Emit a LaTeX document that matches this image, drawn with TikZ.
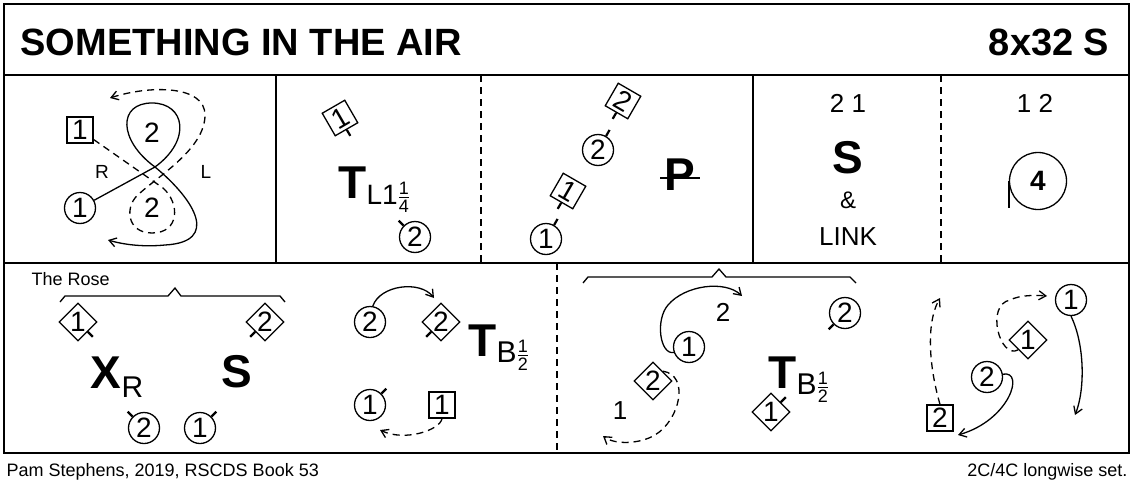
\documentclass[tikz,border=0pt]{standalone}
\usepackage{fontspec}
\usepackage{amsmath}
\setmainfont{Liberation Sans}
\usetikzlibrary{shapes.geometric,arrows.meta}
\newcommand{\fsz}[1]{\fontsize{#1}{#1}\selectfont}
\newcommand{\myfr}[2]{\ensuremath{\genfrac{}{}{0.8pt}{}{\mbox{\fsz{18}#1}}{\mbox{\fsz{18}#2}}}}
\begin{document}
\begin{tikzpicture}[x=1pt,y=1pt,line width=1.3pt,
 w/.style={circle,draw,minimum size=31pt,inner sep=0pt,font=\fsz{28}},
 m/.style={rectangle,draw,minimum size=26pt,inner sep=0pt,font=\fsz{28}},
 d/.style={diamond,draw,minimum size=38pt,inner sep=0pt,font=\fsz{28}},
 tk/.style={line width=2.2pt},
 ar/.style={-{Straight Barb[length=7pt,width=9pt]}},
 dsh/.style={dash pattern=on 7pt off 5pt},
 big/.style={font=\fsz{46}\bfseries,inner sep=0pt},
 lab/.style={font=\fsz{26},inner sep=0pt}]
\useasboundingbox (0,0) rectangle (1133,-490);
% frame
\draw[line width=2pt] (4,-4) rectangle (1129,-453);
\draw[line width=2pt] (4,-75) -- (1129,-75);
\draw[line width=2pt] (4,-263) -- (1129,-263);
\draw (276,-75) -- (276,-263);
\draw (753,-75) -- (753,-263);
\draw[dsh,line width=1.5pt] (481,-75) -- (481,-263);
\draw[dsh,line width=1.5pt] (941,-75) -- (941,-263);
\draw[dsh,line width=1.5pt] (557,-263) -- (557,-453);
% title
\node[anchor=west,font=\fsz{38}\bfseries,inner sep=0pt] (title) at (20,-42) {SOMETHING IN THE AIR};
\node[anchor=east,font=\fsz{38}\bfseries,inner sep=0pt] (bars) at (1110,-42) {8x32 S};
\node[anchor=west,font=\fsz{18},inner sep=0pt] (foot1) at (6,-472) {Pam Stephens, 2019, RSCDS Book 53};
\node[anchor=east,font=\fsz{18},inner sep=0pt] (foot2) at (1128,-472) {2C/4C longwise set.};
% panel 1
\node[m] (a1) at (80,-130) {1};
\node[inner sep=0pt,font=\fsz{28}] (a2) at (152,-133) {2};
\node[lab,font=\fsz{19}] (aR) at (102,-172) {R};
\node[lab,font=\fsz{19}] (aL) at (206,-172) {L};
\node[w] (a3) at (80,-208) {1};
\node[inner sep=0pt,font=\fsz{28}] (a4) at (152,-208) {2};
\draw[ar] (a3) -- (155,-167) .. controls (192,-140) and (185,-103) .. (152,-103) .. controls (118,-103) and (118,-140) .. (155,-167) .. controls (195,-200) and (220,-242) .. (165,-245) .. controls (145,-247) and (125,-245) .. (108,-240);
\draw[ar,dsh] (a1) -- (163,-188) .. controls (180,-203) and (180,-233) .. (152,-233) .. controls (126,-233) and (124,-205) .. (140,-193) .. controls (160,-175) and (205,-148) .. (205,-115) .. controls (205,-85) and (150,-85) .. (110,-98);
% panel 2
\node[m,rotate=30] (b1) at (340,-118) {1};
\draw[tk] (b1.south) -- ++(-60:7);
\node[lab,anchor=base west] (bT) at (338,-198) {\fsz{46}\bfseries T};
\node[lab,anchor=base west] (bsub) at (366,-204) {\fsz{28}L1\myfr{1}{4}};
\node[w] (b2) at (415,-237) {2};
\draw[tk] (b2.135) -- ++(135:7);
% panel 3
\node[m,rotate=-30] (c1) at (623,-101) {2};
\draw[tk] (c1.south) -- ++(-120:7);
\node[w] (c2) at (598,-150) {2};
\draw[tk] (c2.60) -- ++(60:7);
\node[m,rotate=-30] (c3) at (568,-191) {1};
\draw[tk] (c3.south) -- ++(-120:7);
\node[w] (c4) at (546,-239) {1};
\draw[tk] (c4.60) -- ++(60:7);
\node[big] (cP) at (680,-175) {P};
\draw (cP.west) ++(-4,-3) -- ++(40,0);
% panel 4
\node[lab] (d21) at (848,-103) {2 1};
\node[big] (dS) at (848,-158) {S};
\node[lab,font=\fsz{24}] (damp) at (848,-200) {\&};
\node[lab] (dlink) at (848,-237) {LINK};
% panel 5
\node[lab] (e12) at (1035,-103) {1 2};
\node[circle,draw,minimum size=57pt,inner sep=0pt,font=\fsz{28}\bfseries] (e4) at (1038,-181) {4};
\draw (e4.180) -- ++(0,-27);
% row 2 left
\node[lab,font=\fsz{18},anchor=west] (rose) at (31,-279) {The Rose};
\draw (60,-302) -- (65,-296) -- (168,-296) -- (175,-288) -- (181,-296) -- (280,-296) -- (285,-302);
\node[d] (f1) at (78,-322) {1};
\draw[tk] (f1.south east) -- ++(-45:7);
\node[d] (f2) at (265,-322) {2};
\draw[tk] (f2.south west) -- ++(-135:7);
\node[lab,anchor=base west] (fX) at (90,-388) {\fsz{46}\bfseries X};
\node[lab,anchor=base west] (fR) at (121,-397) {\fsz{30}R};
\node[big] (fS) at (237,-372) {S};
\node[w] (f3) at (144,-428) {2};
\draw[tk] (f3.135) -- ++(135:7);
\node[w] (f4) at (200,-428) {1};
\draw[tk] (f4.45) -- ++(45:7);
\node[w] (g1) at (370,-322) {2};
\node[d] (g2) at (441,-322) {2};
\draw[tk] (g2.south west) -- ++(-135:7);
\draw[ar] (g1.80) .. controls (380,-285) and (420,-280) .. (434,-298);
\node[lab,anchor=base west] (gT) at (468,-356) {\fsz{46}\bfseries T};
\node[lab,anchor=base west] (gsub) at (496,-362) {\fsz{30}B\myfr{1}{2}};
\node[w] (g3) at (370,-405) {1};
\draw[tk] (g3.45) -- ++(45:7);
\node[m] (g4) at (442,-405) {1};
\draw[ar,dsh] (g4.south) .. controls (440,-430) and (405,-442) .. (380,-430);
% row 2 right
\draw (583,-283) -- (588,-277) -- (712,-277) -- (719,-269) -- (726,-277) -- (850,-277) -- (856,-283);
\node[w] (h1) at (689,-347) {1};
\draw[ar] (h1.200) .. controls (660,-355) and (655,-320) .. (668,-305) .. controls (685,-285) and (725,-280) .. (742,-296);
\node[lab] (h2t) at (723,-312) {2};
\node[d] (h2) at (653,-381) {2};
\draw[ar,dsh] (h2.north east) .. controls (690,-375) and (680,-420) .. (655,-435) .. controls (640,-444) and (615,-445) .. (603,-436);
\node[lab] (h1t) at (620,-411) {1};
\node[lab,anchor=base west] (hT) at (768,-388) {\fsz{46}\bfseries T};
\node[lab,anchor=base west] (hsub) at (796,-394) {\fsz{30}B\myfr{1}{2}};
\node[w] (h3) at (845,-313) {2};
\draw[tk] (h3.225) -- ++(225:7);
\node[d] (h4) at (771,-412) {1};
\draw[tk] (h4.north east) -- ++(45:7);
\node[m] (k1) at (940,-418) {2};
\draw[ar,dsh] (k1.north) .. controls (930,-370) and (925,-325) .. (940,-298);
\node[d] (k2) at (1028,-340) {1};
\draw[ar,dsh] (k2.south west) .. controls (1000,-360) and (985,-305) .. (1010,-300) .. controls (1020,-295) and (1035,-295) .. (1047,-296);
\node[w] (k3) at (1071,-300) {1};
\draw[ar] (k3.270) .. controls (1085,-345) and (1085,-390) .. (1075,-415);
\node[w] (k4) at (987,-377) {2};
\draw[ar] (k4.10) .. controls (1025,-370) and (1010,-420) .. (958,-435);
\end{tikzpicture}
\end{document}
